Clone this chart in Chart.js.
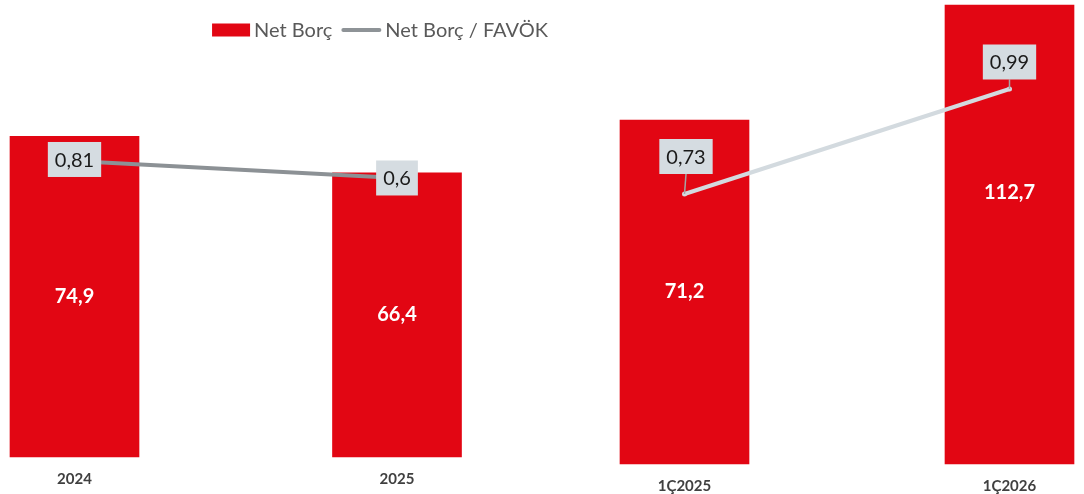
<!DOCTYPE html>
<html><head><meta charset="utf-8">
<script src="https://cdn.jsdelivr.net/npm/chart.js@4.4.1/dist/chart.umd.min.js"></script>
<style>
html,body{margin:0;padding:0;background:#fff;width:1084px;height:494px;overflow:hidden}
.box{position:absolute;top:0;height:494px}
#wl{left:0;width:600px}
#wr{left:540px;width:544px}
</style></head><body>
<div class="box" id="wl"><canvas id="cl"></canvas></div>
<div class="box" id="wr"><canvas id="cr"></canvas></div>
<script>
// ---- data ----
const leftCategories = ['2024', '2025'];
const leftNetDebt = [74.9, 66.4];
const leftRatio = [0.81, 0.6];
const rightCategories = ['1Ç2025', '1Ç2026'];
const rightNetDebt = [71.2, 112.7];
const rightRatio = [0.73, 0.99];
const seriesNames = ['Net Borç', 'Net Borç / FAVÖK'];

const RED = '#E20613';
const FONT = 'Lato, "Open Sans", sans-serif';
const fmt = v => String(v).replace('.', ',');

const valueLabels = {
  id: 'valueLabels',
  afterDatasetsDraw(chart, args, opts) {
    const ctx = chart.ctx;
    ctx.save();
    const bm = chart.getDatasetMeta(0);
    ctx.font = 'bold 20px ' + FONT;
    ctx.fillStyle = '#ffffff';
    ctx.textAlign = 'center';
    ctx.textBaseline = 'middle';
    bm.data.forEach((el, i) => {
      const v = chart.data.datasets[0].data[i];
      ctx.fillText(fmt(v), el.x, (el.y + el.base) / 2 + (opts.barOffsets[i] || 0));
    });
    const lm = chart.getDatasetMeta(1);
    ctx.font = '20px ' + FONT;
    lm.data.forEach((el, i) => {
      const v = chart.data.datasets[1].data[i];
      const t = fmt(v);
      const w = ctx.measureText(t).width + 14;
      const h = 35;
      const off = opts.lineOffsets[i] || 0;
      const cx = el.x + (opts.lineDx ? opts.lineDx[i] : 0), cy = el.y + off;
      if (off !== 0) {
        ctx.strokeStyle = '#A5A5A5';
        ctx.lineWidth = 1.5;
        ctx.beginPath();
        ctx.moveTo(cx, cy + h / 2);
        ctx.lineTo(el.x, el.y);
        ctx.stroke();
      }
      ctx.fillStyle = '#D5DCE1';
      ctx.fillRect(cx - w / 2, cy - h / 2, w, h);
      ctx.fillStyle = '#1a1a1a';
      ctx.fillText(t, cx, cy + 1);
    });
    ctx.restore();
  }
};

const customLegend = {
  id: 'customLegend',
  afterDraw(chart, args, opts) {
    if (!opts.show) return;
    const ctx = chart.ctx;
    ctx.save();
    ctx.font = '20px ' + FONT;
    const t1 = chart.data.datasets[0].label, t2 = chart.data.datasets[1].label;
    const w1 = ctx.measureText(t1).width, w2 = ctx.measureText(t2).width;
    const total = 38 + 4 + w1 + 9 + 40 + 4 + w2;
    let x = opts.centerX - total / 2;
    const y = opts.y;
    ctx.fillStyle = RED;
    ctx.fillRect(x, y - 6.5, 38, 13);
    x += 42;
    ctx.fillStyle = '#595959';
    ctx.textAlign = 'left';
    ctx.textBaseline = 'middle';
    ctx.fillText(t1, x, y + 1);
    x += w1 + 9;
    ctx.strokeStyle = '#8E9397';
    ctx.lineWidth = 4;
    ctx.lineCap = 'round';
    ctx.beginPath();
    ctx.moveTo(x + 2, y);
    ctx.lineTo(x + 38, y);
    ctx.stroke();
    x += 44;
    ctx.fillText(t2, x, y + 1);
    ctx.restore();
  }
};

function makeChart(id, cats, bars, ratio, cfg) {
  return new Chart(document.getElementById(id), {
    data: {
      labels: cats,
      datasets: [
        {
          type: 'bar', label: seriesNames[0], data: bars, yAxisID: 'y',
          backgroundColor: RED, barThickness: 129, base: cfg.yMin,
          clip: false, order: 1
        },
        {
          type: 'line', label: seriesNames[1], data: ratio, yAxisID: 'y2',
          borderColor: cfg.lineColor, backgroundColor: cfg.lineColor,
          borderWidth: 4, pointRadius: cfg.pointRadius, pointBorderWidth: 0,
          clip: false, order: 0
        }
      ]
    },
    options: {
      responsive: true, maintainAspectRatio: false, animation: false,
      devicePixelRatio: 1,
      layout: { padding: cfg.padding },
      plugins: {
        legend: { display: false }, tooltip: { enabled: false },
        valueLabels: { barOffsets: cfg.barOffsets, lineOffsets: cfg.lineOffsets, lineDx: cfg.lineDx },
        customLegend: { show: cfg.legend, centerX: 380, y: 30 }
      },
      scales: {
        x: {
          type: 'category', offset: false,
          grid: { display: false, drawTicks: false }, border: { display: false },
          ticks: { color: '#404040', font: { family: FONT, size: 15, weight: 'bold' }, padding: cfg.tickPad, maxRotation: 0 },
          afterFit: s => { s.height = cfg.axisH; }
        },
        y: { display: false, min: cfg.yMin, max: cfg.yMax },
        y2: { display: false, position: 'right', min: cfg.y2Min, max: cfg.y2Max }
      }
    },
    plugins: [valueLabels, customLegend]
  });
}

makeChart('cl', leftCategories, leftNetDebt, leftRatio, {
  padding: { left: 74.5, right: 203, top: 5, bottom: 0 },
  axisH: 37, tickPad: 13,
  yMin: 0, yMax: 105.6, y2Min: -2.847, y2Max: 2.737,
  lineColor: '#8C9195', pointRadius: 0,
  barOffsets: [0, 0], lineOffsets: [-1.5, 0], lineDx: [0, 0], legend: true
});

makeChart('cr', rightCategories, rightNetDebt, rightRatio, {
  padding: { left: 144.5, right: 74.5, top: 5, bottom: 0 },
  axisH: 30, tickPad: 13,
  yMin: -52.9, yMax: 112.7, y2Min: 0.0614, y2Max: 1.198,
  lineColor: '#D3DADF', pointRadius: 2.5,
  barOffsets: [0, -42], lineOffsets: [-37.5, -27], lineDx: [1.5, 0], legend: false
});
</script>
</body></html>
